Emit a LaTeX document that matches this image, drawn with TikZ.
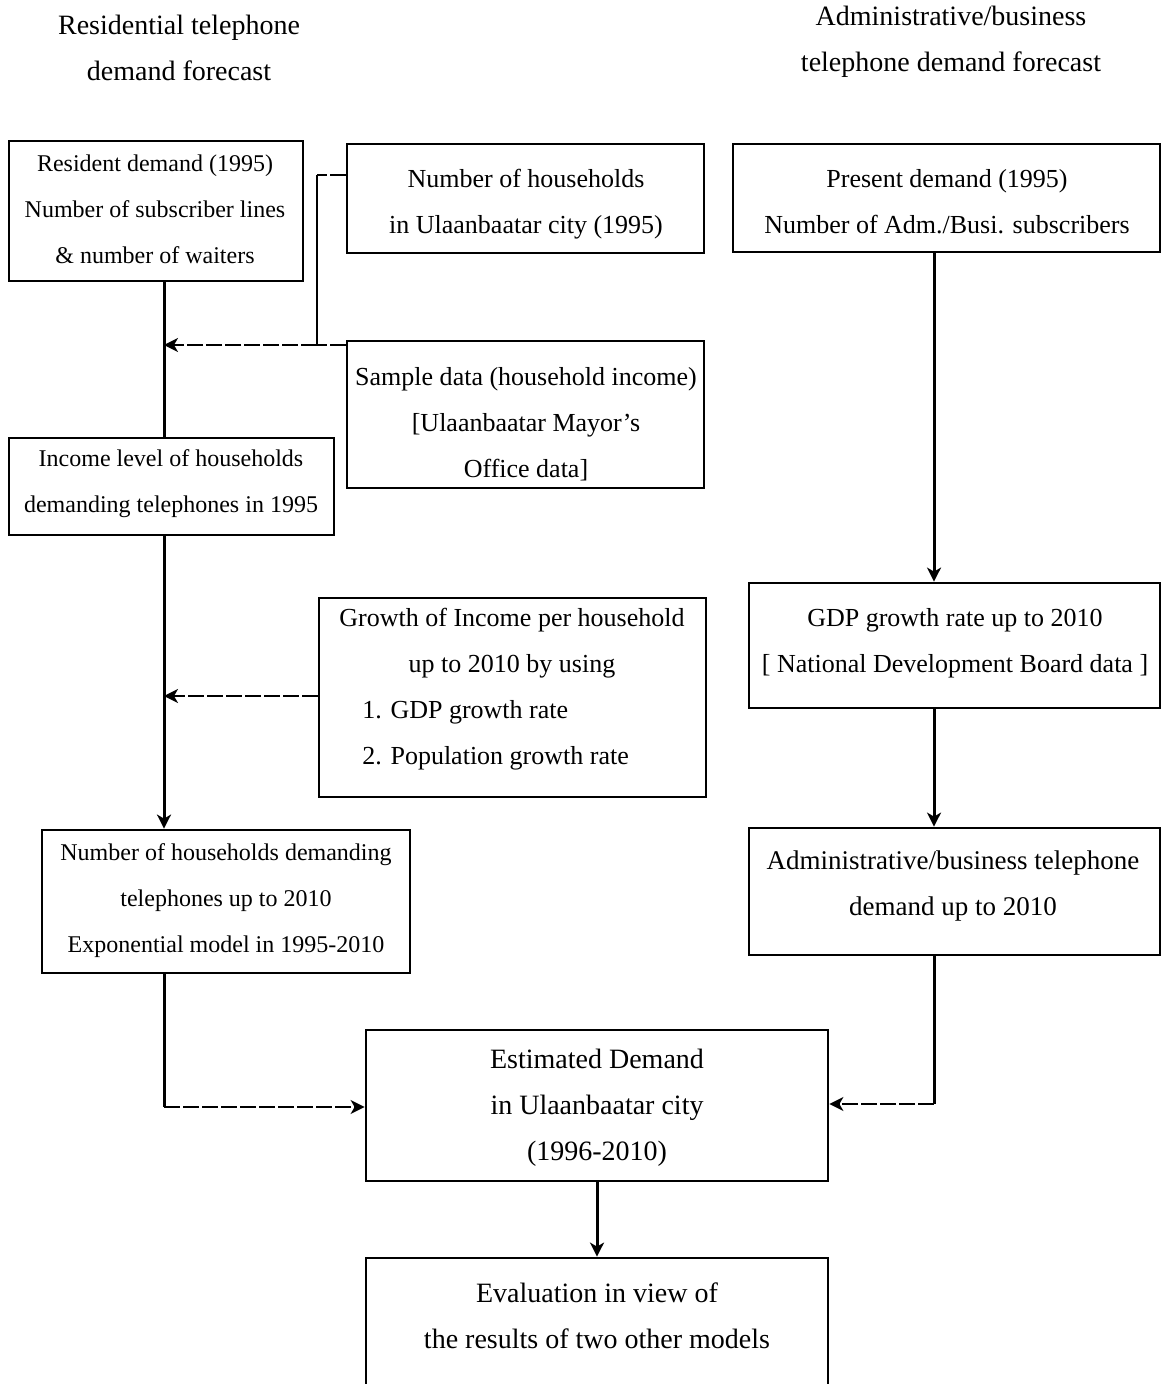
\documentclass[tikz,border=0pt]{standalone}
\usepackage{fontspec}
\setmainfont{Liberation Serif}
\usetikzlibrary{arrows.meta}
\begin{document}
\begin{tikzpicture}[x=0.5pt,y=-0.5pt,
  box/.style={draw, line width=1.4pt, rectangle, inner sep=0pt},
  txt/.style={inner sep=0pt, align=center},
  small/.style={font=\fontsize{12}{23}\selectfont},
  mid/.style={font=\fontsize{13}{23}\selectfont},
  big/.style={font=\fontsize{14}{23}\selectfont},
  vline/.style={line width=1.5pt},
  hline/.style={line width=0.9pt, dash pattern=on 8pt off 1.5pt},
  tip/.style={-{Stealth[length=7pt,width=7pt,inset=2pt]}}
]
\useasboundingbox (0,0) rectangle (1163,1384);
\clip (0,0) rectangle (1163,1384);

% column headings
\node[txt,big] (hL) at (179,48) {Residential telephone\\demand forecast};
\node[txt,big] (hR) at (951,42) {Administrative/business\\telephone demand forecast};

% boxes
\node[box, minimum width=147pt,   minimum height=70pt]   (b1)  at (156,211) {};
\node[box, minimum width=178.5pt, minimum height=54.5pt] (b2)  at (525.5,198.5) {};
\node[box, minimum width=213.5pt, minimum height=54pt]   (b3)  at (946.5,198) {};
\node[box, minimum width=178.5pt, minimum height=73.5pt] (b4)  at (525.5,414.5) {};
\node[box, minimum width=162.5pt, minimum height=48.5pt] (b5)  at (171.5,486.5) {};
\node[box, minimum width=193.5pt, minimum height=99.5pt] (b6)  at (512.5,697.5) {};
\node[box, minimum width=205.5pt, minimum height=62.5pt] (b7)  at (954.5,645.5) {};
\node[box, minimum width=184pt,   minimum height=71.5pt] (b8)  at (226,901.5) {};
\node[box, minimum width=205.5pt, minimum height=63.5pt] (b9)  at (954.5,891.5) {};
\node[box, minimum width=231pt,   minimum height=75.5pt] (b10) at (597,1105.5) {};
\node[box, minimum width=231pt,   minimum height=81pt]   (b11) at (597,1339) {};

% box texts
\node[txt,small] (t1) at (155,209.5) {Resident demand (1995)\\Number of subscriber lines\\\& number of waiters};
\node[txt,mid] (t2) at (526,204) {Number of households\\in Ulaanbaatar city (1995)};
\node[txt,mid] (t3) at (947,202) {Present demand (1995)\\Number of Adm./Busi. subscribers};
\node[txt,mid] (t4) at (526,424.5) {Sample data (household income)\\{[}Ulaanbaatar Mayor’s\\Office data{]}};
\node[txt,small] (t5) at (171,483.5) {Income level of households\\demanding telephones in 1995};
\node[txt,mid] (t6a) at (512,643) {Growth of Income per household\\up to 2010 by using};
\node[txt,mid,align=left,anchor=west] (t6b) at (362,735) {1. GDP growth rate\\2. Population growth rate};
\node[txt,mid] (t7) at (955,643) {GDP growth rate up to 2010\\{[} National Development Board data {]}};
\node[txt,small] (t8) at (226,900.5) {Number of households demanding\\telephones up to 2010\\Exponential model in 1995-2010};
\node[txt,font=\fontsize{13.5}{23}\selectfont] (t9) at (953,886) {Administrative/business telephone\\demand up to 2010};
\node[txt,big] (t10) at (597,1108) {Estimated Demand\\in Ulaanbaatar city\\(1996-2010)};
\node[txt,big] (t11) at (597,1315.5) {Evaluation in view of\\the results of two other models};

% reference points for the connector routes
\coordinate (xL) at (164,0);
\coordinate (xR) at (934,0);
\coordinate (jA) at (317,175);
\coordinate (jB) at (317,345);
\coordinate (aB) at (164,345);
\coordinate (aC) at (164,696);
\coordinate (jD) at (164,1107);
\coordinate (jE) at (934,1104);

% residential branch
\draw[vline] (b1.south -| xL) -- (b5.north -| xL);
\draw[hline] (b2.west |- jA) -- (jA);
\draw[vline, line width=1.2pt] (jA) -- (jB);
\draw[hline] (b4.west |- jB) -- (jB);
\draw[hline, tip] (jB) -- (aB);
\draw[vline, tip] (b5.south -| xL) -- (b8.north -| xL);
\draw[hline, tip] (b6.west |- aC) -- (aC);
\draw[vline] (b8.south -| xL) -- (jD);
\draw[hline, tip] (jD) -- (b10.west |- jD);

% administrative/business branch
\draw[vline, tip] (b3.south -| xR) -- (b7.north -| xR);
\draw[vline, tip] (b7.south -| xR) -- (b9.north -| xR);
\draw[vline] (b9.south -| xR) -- (jE);
\draw[hline, tip] (jE) -- (b10.east |- jE);

% final evaluation
\draw[vline, tip] (b10.south) -- (b11.north);
\end{tikzpicture}
\end{document}
